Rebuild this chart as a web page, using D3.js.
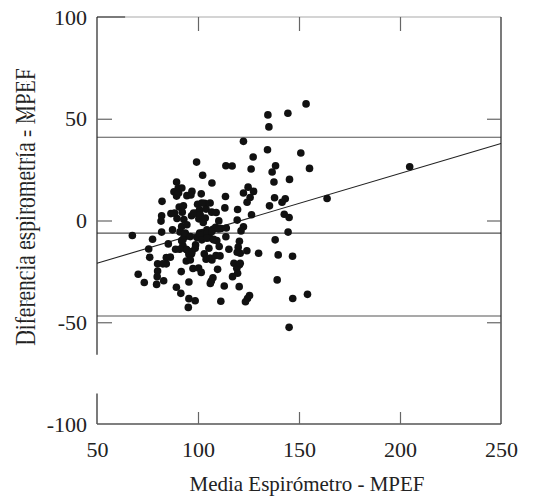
<!DOCTYPE html>
<html>
<head>
<meta charset="utf-8">
<script src="https://cdn.jsdelivr.net/npm/d3@7"></script>
<style>
  body { margin: 0; background: #fff; }
  svg { display: block; font-family: "Liberation Serif", "Times New Roman", serif; }
  .tick text { font-family: "Liberation Serif", serif; font-size: 22px; fill: #222; }
</style>
</head>
<body>
<div id="chart"></div>
<script>
// mean of both methods (x) vs difference (y)
var meanValues = [
  153.5, 134.6, 144.5, 135.1, 122.5, 134.4, 150.9, 127.3, 99.3, 113.8,
  116.9, 138.4, 155.2, 126.3, 204.8, 136.7, 102.3, 145.3, 89.4, 137.6,
  106.9, 124.8, 90.2, 88.1, 97.0, 127.5, 122.5, 101.6, 94.5, 89.4,
  125.8, 113.6, 137.9, 143.2, 163.9, 82.2, 124.3, 141.6, 99.8, 103.3,
  135.4, 90.7, 113.3, 119.6, 100.8, 104.0, 106.8, 92.2, 86.6, 82.0,
  96.8, 99.3, 126.5, 142.7, 145.1, 100.4, 89.6, 93.0, 81.7, 102.6,
  110.3, 119.4, 144.6, 122.5, 87.4, 82.0, 91.9, 91.1, 67.5, 100.8,
  102.3, 104.4, 105.6, 107.4, 108.7, 111.4, 121.3, 93.1, 94.5, 99.5,
  102.0, 105.7, 107.7, 109.3, 113.8, 77.5, 91.9, 138.2, 120.5, 92.5,
  98.8, 85.3, 110.5, 105.4, 75.6, 88.9, 94.1, 115.3, 119.9, 119.4,
  95.5, 96.8, 103.1, 130.0, 95.5, 108.9, 139.7, 146.8, 76.1, 84.3,
  104.0, 94.2, 80.0, 84.3, 117.8, 120.5, 119.2, 97.5, 109.7, 80.0,
  91.7, 101.6, 119.6, 70.4, 79.8, 117.1, 107.4, 106.6, 139.2, 83.0,
  73.4, 95.5, 106.1, 79.5, 89.3, 113.0, 120.4, 91.5, 154.2, 125.5,
  124.5, 146.9, 95.5, 98.6, 111.3, 123.5, 95.2, 145.1,
  92.0, 90.4, 96.5, 101.9, 106.0, 92.8, 88.4, 97.8, 101.1, 103.6,
  109.0, 94.5, 93.7, 96.2, 101.1, 104.4, 106.9, 110.2, 114.0, 92.5,
  101.9, 104.4, 107.7, 90.9, 94.5, 97.0, 98.6, 86.3, 96.2, 106.0,
  110.9, 120.9, 124.2, 82.6, 100.3, 106.9, 120.9
];
var diffValues = [
  57.3, 51.9, 52.7, 46.0, 38.9, 34.8, 33.2, 31.2, 28.7, 26.9,
  26.8, 26.9, 25.6, 25.3, 26.4, 23.8, 22.2, 20.2, 18.9, 18.9,
  18.4, 16.4, 15.9, 14.1, 14.3, 14.3, 13.5, 13.1, 12.2, 12.0,
  11.3, 11.8, 11.2, 10.7, 10.8, 9.4, 9.0, 9.0, 8.0, 8.5,
  7.2, 6.6, 6.2, 5.4, 5.3, 5.6, 4.1, 4.1, 3.4, 2.3,
  2.3, 3.6, 2.8, 3.1, 1.5, 0.8, 1.0, 0.5, -0.3, -1.0,
  -0.2, 0.2, -5.7, -3.1, -4.6, -5.7, -3.0, -5.6, -7.4, -6.2,
  -5.9, -4.6, -6.2, -4.3, -3.4, -3.9, -5.1, -8.2, -7.6, -8.4,
  -7.9, -8.4, -9.2, -9.9, -8.0, -9.2, -9.9, -9.5, -10.2, -12.3,
  -12.0, -11.5, -12.8, -13.6, -14.0, -14.1, -14.1, -14.1, -13.1, -15.6,
  -15.6, -16.4, -16.4, -16.1, -16.7, -17.2, -16.9, -17.6, -18.1, -18.2,
  -19.0, -19.9, -21.3, -21.3, -21.0, -21.8, -23.5, -23.6, -24.0, -24.8,
  -25.1, -25.5, -25.9, -26.4, -27.6, -27.6, -28.1, -29.7, -29.2, -29.6,
  -30.5, -30.2, -30.9, -31.4, -32.8, -32.2, -32.5, -35.8, -36.3, -36.9,
  -38.3, -38.3, -38.4, -39.4, -39.7, -39.9, -42.7, -52.5,
  16.0, 13.5, 12.5, 8.6, 8.6, 7.2, 3.6, 3.6, 2.8, 1.2,
  3.9, -2.1, -6.2, -7.9, -7.0, -6.2, -5.4, -4.2, -3.7, -9.5,
  -9.5, -8.7, -9.5, -14.1, -14.4, -15.3, -13.6, -18.0, -19.4, -18.5,
  -17.4, -16.1, -14.9, -21.3, -23.4, -19.4, -21.0
];

// mean difference and limits of agreement
var limitLines = [40.9, -6.2, -46.9];
// regression of difference on mean, as its two ends
var regressionX = [50, 250];
var regressionY = [-21.0, 37.8];

var xTicks = [50, 100, 150, 200, 250];
var yTicks = [100, 50, 0, -50, -100];
var xInnerTicks = [100, 150, 200];
var yInnerTicks = [50, 0, -50];

var xLabel = "Media Espirómetro - MPEF";
var yLabel = "Diferencia espirometría - MPEF";

var width = 534, height = 499;

var svg = d3.select("#chart").append("svg")
  .attr("width", width)
  .attr("height", height);

var x = d3.scaleLinear().domain([50, 250]).range([97, 501]);
var y = d3.scaleLinear().domain([-100, 100]).range([424, 17]);

var data = meanValues.map(function (m, i) { return { m: m, d: diffValues[i] }; });

// horizontal limit lines
svg.selectAll(".limit")
  .data(limitLines)
  .join("line")
  .attr("class", "limit")
  .attr("x1", x(50)).attr("x2", x(250))
  .attr("y1", function (d) { return y(d); })
  .attr("y2", function (d) { return y(d); })
  .attr("stroke", "#555")
  .attr("stroke-width", 1.1);

// regression line
svg.append("line")
  .attr("x1", x(regressionX[0])).attr("y1", y(regressionY[0]))
  .attr("x2", x(regressionX[1])).attr("y2", y(regressionY[1]))
  .attr("stroke", "#222")
  .attr("stroke-width", 1.1);

// frame, the left side has a break and the top is light after the corner
var frame = svg.append("g").attr("fill", "none");
frame.append("line")
  .attr("x1", x(50)).attr("x2", x(50)).attr("y1", y(100)).attr("y2", y(-66))
  .attr("stroke", "#222").attr("stroke-width", 1.2);
frame.append("line")
  .attr("x1", x(50)).attr("x2", x(50)).attr("y1", y(-85)).attr("y2", y(-100))
  .attr("stroke", "#222").attr("stroke-width", 1.2);
frame.append("line")
  .attr("x1", x(50)).attr("x2", x(64)).attr("y1", y(100)).attr("y2", y(100))
  .attr("stroke", "#222").attr("stroke-width", 1.2);
frame.append("line")
  .attr("x1", x(64)).attr("x2", x(250)).attr("y1", y(100)).attr("y2", y(100))
  .attr("stroke", "#aaa").attr("stroke-width", 1.2);
frame.append("line")
  .attr("x1", x(250)).attr("x2", x(250)).attr("y1", y(100)).attr("y2", y(-100))
  .attr("stroke", "#222").attr("stroke-width", 1.2);
frame.append("line")
  .attr("x1", x(50)).attr("x2", x(250)).attr("y1", y(-100)).attr("y2", y(-100))
  .attr("stroke", "#555").attr("stroke-width", 1.4);

// inward ticks
function innerTicks(g) {
  g.select(".domain").remove();
  g.selectAll(".tick line").attr("stroke", "#666").attr("stroke-width", 1.2);
}
svg.append("g").attr("transform", "translate(" + x(50) + ",0)")
  .call(d3.axisLeft(y).tickValues(yInnerTicks).tickSize(-15).tickFormat(""))
  .call(innerTicks);
svg.append("g").attr("transform", "translate(" + x(250) + ",0)")
  .call(d3.axisRight(y).tickValues(yInnerTicks).tickSize(-14).tickFormat(""))
  .call(innerTicks);
svg.append("g").attr("transform", "translate(0," + y(100) + ")")
  .call(d3.axisTop(x).tickValues(xInnerTicks).tickSize(-14).tickFormat(""))
  .call(innerTicks);
svg.append("g").attr("transform", "translate(0," + y(-100) + ")")
  .call(d3.axisBottom(x).tickValues(xInnerTicks).tickSize(-12).tickFormat(""))
  .call(innerTicks);

// tick labels, plain hyphen for the minus sign like the original
function labelAxis(g) {
  g.attr("font-family", null).attr("font-size", null);
  g.select(".domain").remove();
  g.selectAll("text").style("font-family", "'Liberation Serif', serif");
}
svg.append("g").attr("transform", "translate(" + x(50) + ",0)")
  .call(d3.axisLeft(y).tickValues(yTicks).tickSize(0).tickPadding(10).tickFormat(function (d) { return String(d); }))
  .call(labelAxis);
svg.append("g").attr("transform", "translate(0," + y(-100) + ")")
  .call(d3.axisBottom(x).tickValues(xTicks).tickSize(0).tickPadding(17).tickFormat(function (d) { return String(d); }))
  .call(labelAxis);

// points
svg.selectAll(".dot")
  .data(data)
  .join("circle")
  .attr("class", "dot")
  .attr("cx", function (d) { return x(d.m); })
  .attr("cy", function (d) { return y(d.d); })
  .attr("r", 3.8)
  .attr("fill", "#111");

// axis titles
svg.append("text")
  .attr("x", 307)
  .attr("y", 491)
  .attr("text-anchor", "middle")
  .attr("font-size", 21)
  .attr("fill", "#222")
  .text(xLabel);

// y title is printed twice, slightly shifted, each copy partly cut
var defs = svg.append("defs");
defs.append("clipPath").attr("id", "clipA")
  .append("rect").attr("x", 0).attr("y", 0).attr("width", 26.5).attr("height", height);
defs.append("clipPath").attr("id", "clipB")
  .append("rect").attr("x", 26.5).attr("y", 0).attr("width", 20).attr("height", height);

[{ bx: 30, clip: "clipA" }, { bx: 35, clip: "clipB" }].forEach(function (c) {
  svg.append("g").attr("clip-path", "url(#" + c.clip + ")")
    .append("text")
    .attr("transform", "translate(" + c.bx + ",207) rotate(-90)")
    .attr("text-anchor", "middle")
    .attr("font-size", 21.5)
    .attr("fill", "#222")
    .text(yLabel);
});
</script>
</body>
</html>
